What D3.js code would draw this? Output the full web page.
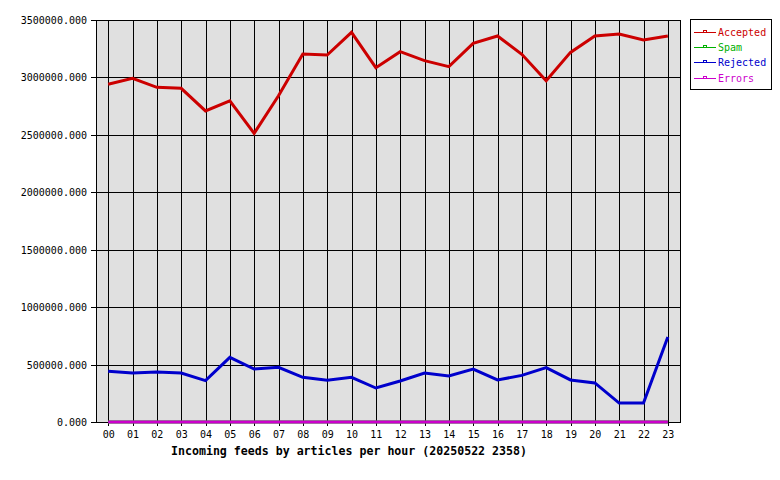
<!DOCTYPE html>
<html><head><meta charset="utf-8">
<script src="https://cdn.jsdelivr.net/npm/d3@7"></script>
<style>body{margin:0;background:#fff}svg{display:block}</style>
</head><body>
<svg id="c" width="780" height="480"></svg>
<script>
const hours = ["00","01","02","03","04","05","06","07","08","09","10","11","12","13","14","15","16","17","18","19","20","21","22","23"];
const accepted = [2940000,2992000,2914000,2905000,2708000,2797000,2513000,2840000,3204000,3195000,3393000,3085000,3224000,3146000,3094000,3297000,3361000,3201000,2972000,3218000,3361000,3378000,3326000,3361000];
const spam = [0,0,0,0,0,0,0,0,0,0,0,0,0,0,0,0,0,0,0,0,0,0,0,0];
const rejected = [441000,427000,435000,427000,360000,563000,461000,476000,389000,363000,389000,296000,357000,427000,400000,461000,366000,406000,473000,366000,340000,165000,165000,740000];
const errors = [0,0,0,0,0,0,0,0,0,0,0,0,0,0,0,0,0,0,0,0,0,0,0,0];
const yTicks = [0,500000,1000000,1500000,2000000,2500000,3000000,3500000];
const seriesNames = ["Accepted","Spam","Rejected","Errors"];
const seriesColors = ["#cc0000","#00b000","#0000cc","#cc00cc"];
const title = "Incoming feeds by articles per hour (20250522 2358)";

const series = [accepted, spam, rejected, errors];
const svg = d3.select("#c");
const L = 96, R = 680, T = 20, B = 422;
const x = d3.scalePoint().domain(hours).range([L, R]).padding(0.5);
const y = d3.scaleLinear().domain([0, 3500000]).range([B, T]);
const font = "'DejaVu Sans Mono', monospace";

svg.append("rect").attr("x", L).attr("y", T).attr("width", R - L).attr("height", B - T)
  .attr("fill", "#e0e0e0");

const g = svg.append("g").attr("shape-rendering", "crispEdges");
g.selectAll(".vg").data(hours).join("line")
  .attr("x1", d => Math.round(x(d)) + 0.5).attr("x2", d => Math.round(x(d)) + 0.5)
  .attr("y1", T).attr("y2", B + 4).attr("stroke", "#000").attr("stroke-width", 1);
g.selectAll(".hg").data(yTicks).join("line")
  .attr("x1", L - 5).attr("x2", R)
  .attr("y1", d => Math.round(y(d)) + 0.5).attr("y2", d => Math.round(y(d)) + 0.5)
  .attr("stroke", "#000").attr("stroke-width", 1);
svg.append("rect").attr("x", L + 0.5).attr("y", T + 0.5).attr("width", R - L).attr("height", B - T)
  .attr("fill", "none").attr("stroke", "#000").attr("shape-rendering", "crispEdges");

svg.selectAll(".yl").data(yTicks).join("text")
  .attr("x", 87).attr("y", d => y(d) + 4)
  .attr("text-anchor", "end").attr("font-family", font).attr("font-size", 10)
  .text(d => d3.format(".3f")(d));

svg.selectAll(".xl").data(hours).join("text")
  .attr("x", d => x(d) + 0.5).attr("y", 438)
  .attr("text-anchor", "middle").attr("font-family", font).attr("font-size", 10)
  .text(d => d);

svg.append("text").attr("x", 349).attr("y", 455).attr("text-anchor", "middle")
  .attr("font-family", font).attr("font-size", 11.6).attr("font-weight", "bold")
  .text(title);

const line = d3.line().x((d, i) => x(hours[i])).y(d => y(d));
series.forEach((s, k) => {
  svg.append("path").attr("d", line(s)).attr("fill", "none")
    .attr("stroke", seriesColors[k]).attr("stroke-width", 3).attr("stroke-linejoin", "miter");
});

const lg = svg.append("g").attr("shape-rendering", "crispEdges");
lg.append("rect").attr("x", 690.5).attr("y", 19.5).attr("width", 81).attr("height", 70)
  .attr("fill", "#fff").attr("stroke", "#000");
seriesNames.forEach((n, k) => {
  const yy = 32 + k * 15.2;
  const ry = Math.round(yy) + 0.5;
  lg.append("line").attr("x1", 694).attr("x2", 716).attr("y1", ry).attr("y2", ry).attr("stroke", seriesColors[k]);
  lg.append("rect").attr("x", 703.5).attr("y", ry - 2).attr("width", 3).attr("height", 2)
    .attr("fill", "none").attr("stroke", seriesColors[k]);
  svg.append("text").attr("x", 718).attr("y", yy + 4).attr("font-family", font).attr("font-size", 10)
    .attr("fill", seriesColors[k]).text(n);
});
</script>
</body></html>
